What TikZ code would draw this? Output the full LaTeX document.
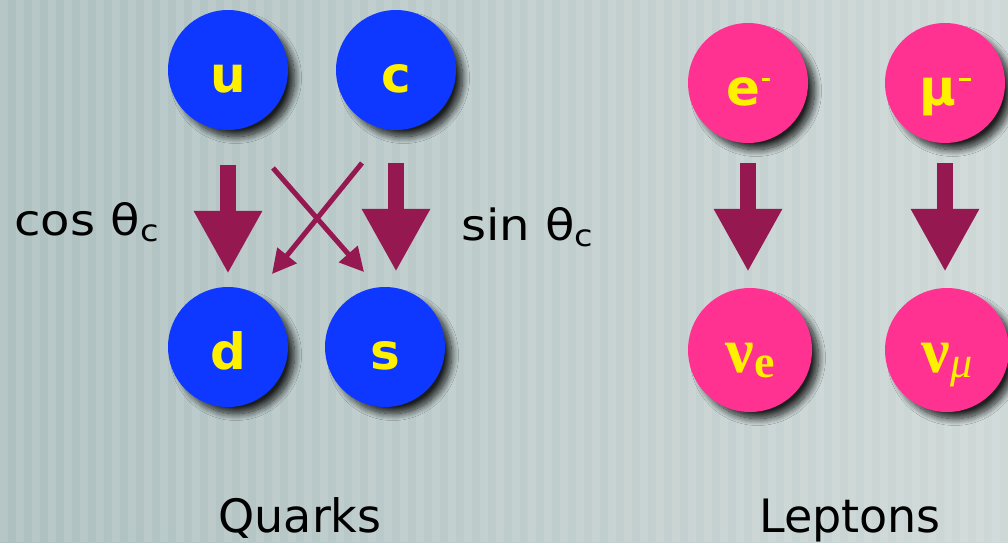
\documentclass[tikz,border=0pt]{standalone}
\usepackage{fontspec}
\setmainfont{DejaVu Sans}
\newfontfamily\lserif{Liberation Serif}
\usetikzlibrary{arrows.meta,shadows.blur}
\definecolor{qblue}{RGB}{14,56,255}
\definecolor{lpink}{RGB}{255,50,146}
\definecolor{arr}{RGB}{150,24,80}
\definecolor{txty}{RGB}{255,240,0}
\definecolor{bgL}{RGB}{174,192,192}
\definecolor{bgR}{RGB}{206,216,215}
\tikzset{
  particle/.style={circle, minimum size=120pt, inner sep=0pt,
    text height=44pt, text depth=0pt,
    font=\fontsize{50}{50}\selectfont\bfseries, text=txty,
    blur shadow={shadow xshift=8pt, shadow yshift=-8pt, shadow blur steps=14, shadow opacity=85, shadow blur radius=7pt, shadow scale=0.98}},
  quark/.style={particle, fill=qblue},
  lepton/.style={particle, fill=lpink, minimum size=124pt},
  bigarrow/.style={draw=arr, line width=16pt, -{Triangle[length=63pt,width=64pt]}},
  thinarrow/.style={draw=arr, line width=5pt, -{Triangle[length=24pt,width=24pt]}},
  lbl/.style={font=\fontsize{43}{43}\selectfont, text=black, inner sep=0pt},
  title/.style={font=\fontsize{46}{46}\selectfont, text=black, inner sep=0pt, anchor=base},
}
\newcommand{\subc}{\raisebox{-6pt}{\fontsize{30}{30}\selectfont c}}
\begin{document}
\begin{tikzpicture}[x=1pt,y=-1pt]
\useasboundingbox (0,0) rectangle (1008,542);
\shade[left color=bgL, right color=bgR] (0,0) rectangle (1008,542);
\foreach \i in {0,...,63}
  \fill[white, opacity=0.10] ({16*\i},0) rectangle ({16*\i+8},542);

% quarks
\node[quark] (u) at (228,70) {u};
\node[quark] (c) at (396,70) {c};
\node[quark] (d) at (228,347) {d};
\node[quark] (s) at (385,347) {s};
% leptons
\node[lepton, minimum size=120pt] (e) at (748,83) {e\kern2pt\rule[24pt]{8pt}{3.5pt}};
\node[lepton, minimum size=120pt] (mu) at (945,83) {μ\kern3pt\rule[24pt]{12pt}{3.5pt}};
\node[lepton] (nue) at (750,350) {{\lserif\bfseries\fontsize{64}{64}\selectfont ν}\raisebox{-5pt}{\lserif\bfseries\fontsize{46}{46}\selectfont e}};
\node[lepton] (numu) at (947,350) {{\lserif\bfseries\fontsize{64}{64}\selectfont ν}\raisebox{-5pt}{\lserif\itshape\mdseries\fontsize{44}{44}\selectfont μ}};

% arrows
\draw[bigarrow, shorten <=35pt, shorten >=13pt] (u.south) -- (u.south |- d.north);
\draw[bigarrow, shorten <=33pt, shorten >=15pt] (c.south) -- (c.south |- s.north);
\draw[bigarrow, shorten <=20pt, shorten >=16pt] (e.south) -- (e.south |- nue.north);
\draw[bigarrow, shorten <=20pt, shorten >=16pt] (mu.south) -- (mu.south |- numu.north);
\coordinate (a1) at (273,168);
\coordinate (a1e) at (364,272);
\coordinate (a2) at (362,163);
\coordinate (a2e) at (272,274);
\draw[thinarrow] (a1) -- (a1e);
\draw[thinarrow] (a2) -- (a2e);

% labels
\node[lbl, anchor=base west] (cos) at (14,235) {\scalebox{1.12}[1]{cos θ\subc}};
\node[lbl, anchor=base west] (sin) at (461,240) {\scalebox{1.12}[1]{sin θ\subc}};
\node[title] (q) at (300,532) {Quarks};
\node[title] (l) at (850,532) {Leptons};
\end{tikzpicture}
\end{document}
